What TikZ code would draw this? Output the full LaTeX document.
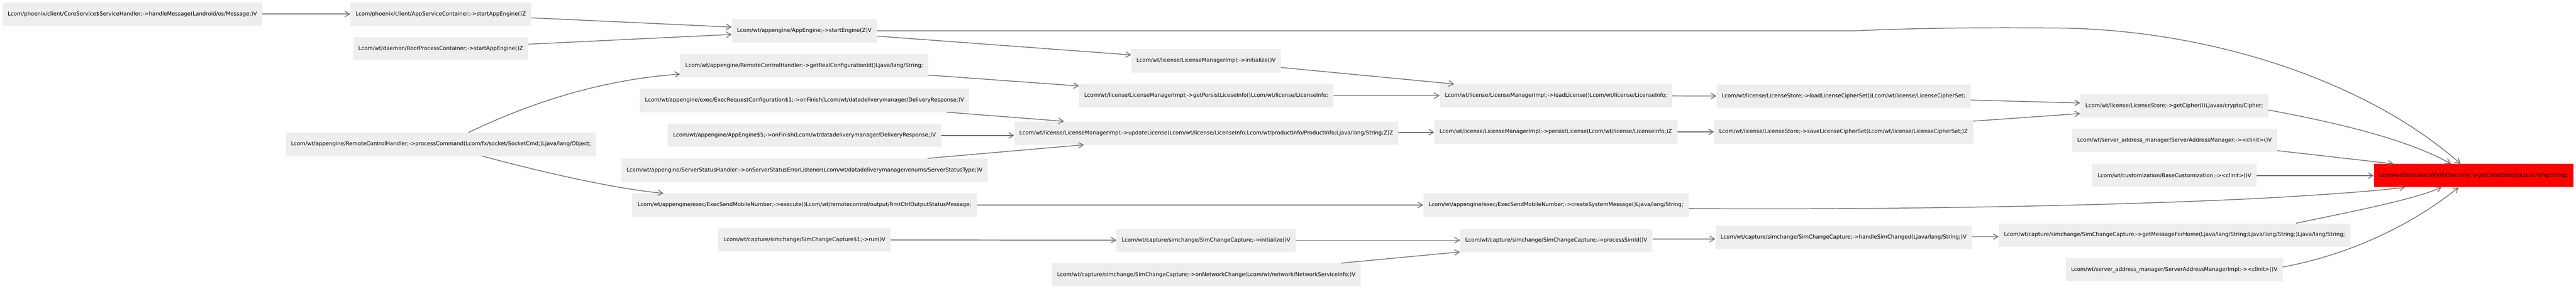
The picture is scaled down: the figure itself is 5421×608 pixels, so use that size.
\documentclass[tikz,border=0pt]{standalone}
\usepackage{fontspec}
\setmainfont{DejaVu Sans}
\usetikzlibrary{arrows.meta}
\definecolor{boxgray}{HTML}{EEEEEE}
\definecolor{edgegray}{HTML}{707070}
\begin{document}
\begin{tikzpicture}[x=1pt, y=-1pt,
  fn/.style={rectangle, fill=boxgray, inner xsep=11pt, inner ysep=0pt, minimum height=49pt, font=\fontsize{11.3}{13}\selectfont},
  hot/.style={fn, fill=red},
  link/.style={draw=edgegray, line width=1.6pt, -{Straight Barb[length=10pt,width=12pt]}}]
\useasboundingbox (0,0) rectangle (5421,608);
\node[fn] (core) at (278.5,29.5) {Lcom/phoenix/client/CoreService\$ServiceHandler;->handleMessage(Landroid/os/Message;)V};
\node[fn] (appsvc) at (927.5,29.5) {Lcom/phoenix/client/AppServiceContainer;->startAppEngine()Z};
\node[fn] (rootproc) at (927.5,102.5) {Lcom/wt/daemon/RootProcessContainer;->startAppEngine()Z};
\node[fn] (proccmd) at (928,303.5) {Lcom/wt/appengine/RemoteControlHandler;->processCommand(Lcom/fx/socket/SocketCmd;)Ljava/lang/Object;};
\node[fn] (startEng) at (1692.5,65) {Lcom/wt/appengine/AppEngine;->startEngine(Z)V};
\node[fn] (realCfg) at (1692.5,138.5) {Lcom/wt/appengine/RemoteControlHandler;->getRealConfigurationId()Ljava/lang/String;};
\node[fn] (reqCfg) at (1693,211.5) {Lcom/wt/appengine/exec/ExecRequestConfiguration\$1;->onFinish(Lcom/wt/datadeliverymanager/DeliveryResponse;)V};
\node[fn] (eng5) at (1693,285) {Lcom/wt/appengine/AppEngine\$5;->onFinish(Lcom/wt/datadeliverymanager/DeliveryResponse;)V};
\node[fn] (srvStat) at (1693,358) {Lcom/wt/appengine/ServerStatusHandler;->onServerStatusErrorListener(Lcom/wt/datadeliverymanager/enums/ServerStatusType;)V};
\node[fn] (sendMob) at (1693,431.5) {Lcom/wt/appengine/exec/ExecSendMobileNumber;->execute()Lcom/wt/remotecontrol/output/RmtCtrlOutputStatusMessage;};
\node[fn] (simRun) at (1693,505) {Lcom/wt/capture/simchange/SimChangeCapture\$1;->run()V};
\node[fn] (licInit) at (2538,128) {Lcom/wt/license/LicenseManagerImpl;->initialize()V};
\node[fn] (persInfo) at (2538.5,201) {Lcom/wt/license/LicenseManagerImpl;->getPersistLiceseInfo()Lcom/wt/license/LicenseInfo;};
\node[fn] (updLic) at (2538.5,280) {Lcom/wt/license/LicenseManagerImpl;->updateLicense(Lcom/wt/license/LicenseInfo;Lcom/wt/productinfo/ProductInfo;Ljava/lang/String;Z)Z};
\node[fn] (simInit) at (2538,505.5) {Lcom/wt/capture/simchange/SimChangeCapture;->initialize()V};
\node[fn] (netChg) at (2538.5,578.5) {Lcom/wt/capture/simchange/SimChangeCapture;->onNetworkChange(Lcom/wt/network/NetworkServiceInfo;)V};
\node[fn] (loadLic) at (3274.5,201.5) {Lcom/wt/license/LicenseManagerImpl;->loadLicense()Lcom/wt/license/LicenseInfo;};
\node[fn] (persLic) at (3274,277.5) {Lcom/wt/license/LicenseManagerImpl;->persistLicense(Lcom/wt/license/LicenseInfo;)Z};
\node[fn] (sysMsg) at (3274.5,431.5) {Lcom/wt/appengine/exec/ExecSendMobileNumber;->createSystemMessage()Ljava/lang/String;};
\node[fn] (simId) at (3275,505.5) {Lcom/wt/capture/simchange/SimChangeCapture;->processSimId()V};
\node[fn] (loadSet) at (3879.5,202.5) {Lcom/wt/license/LicenseStore;->loadLicenseCipherSet()Lcom/wt/license/LicenseCipherSet;};
\node[fn] (saveSet) at (3879.5,277.5) {Lcom/wt/license/LicenseStore;->saveLicenseCipherSet(Lcom/wt/license/LicenseCipherSet;)Z};
\node[fn] (simChg) at (3879.5,499.5) {Lcom/wt/capture/simchange/SimChangeCapture;->handleSimChanged(Ljava/lang/String;)V};
\node[fn] (cipher) at (4575.5,222.5) {Lcom/wt/license/LicenseStore;->getCipher(I)Ljavax/crypto/Cipher;};
\node[fn] (addrMgr) at (4576,295.5) {Lcom/wt/server\_address\_manager/ServerAddressManager;-><clinit>()V};
\node[fn] (baseCust) at (4576,369.5) {Lcom/wt/customization/BaseCustomization;-><clinit>()V};
\node[fn] (homeMsg) at (4576,494.5) {Lcom/wt/capture/simchange/SimChangeCapture;->getMessageForHome(Ljava/lang/String;Ljava/lang/String;)Ljava/lang/String;};
\node[fn] (addrImpl) at (4575.5,567.5) {Lcom/wt/server\_address\_manager/ServerAddressManagerImpl;-><clinit>()V};
\node[hot] (fxConst) at (5205.5,369.5) {Lcom/wt/base/security/FxSecurity;->getConstant([B)Ljava/lang/String;};

\draw[link] (core) -- (appsvc);
\draw[link] ([yshift=-8pt]appsvc.east) -- ([yshift=8pt]startEng.west);
\draw[link] ([yshift=9.5pt]rootproc.east) -- ([yshift=-7.5pt]startEng.west);
\draw[link] ([xshift=58pt]proccmd.north) .. controls (1150,200) and (1300,165) .. ([yshift=-17.5pt]realCfg.west);
\draw[link] ([xshift=86pt]proccmd.south) .. controls (1150,365) and (1300,398) .. ([xshift=-297pt]sendMob.north);
\draw[link] (startEng.east) -- (3900,65) .. controls (4050,58) and (4200,58) .. (4330,59) .. controls (4650,62) and (4980,170) .. ([xshift=-27.5pt]fxConst.north);
\draw[link] ([yshift=-11pt]startEng.east) -- ([yshift=12.4pt]licInit.west);
\draw[link] ([yshift=-19.5pt]realCfg.east) -- ([yshift=20pt]persInfo.west);
\draw[link] ([xshift=300pt]reqCfg.south) -- ([xshift=-299.5pt]updLic.north);
\draw[link] (eng5.east) -- (eng5.east -| updLic.west);
\draw[link] ([xshift=259pt]srvStat.north) -- ([xshift=-257.5pt]updLic.south);
\draw[link] (sendMob) -- (sysMsg);
\draw[link] (simRun) -- (simInit);
\draw[link] ([yshift=-14pt]licInit.east) -- ([xshift=-214.5pt]loadLic.north);
\draw[link] (persInfo) -- (loadLic);
\draw[link] ([yshift=1.5pt]updLic.east) -- ([yshift=-1pt]persLic.west);
\draw[link] (simInit) -- (simId);
\draw[link] ([xshift=283.5pt]netChg.north) -- (simId.south west);
\draw[link] (loadLic) -- (loadSet);
\draw[link] (persLic) -- (saveSet);
\draw[link] ([yshift=-7.5pt]sysMsg.east) .. controls (4000,442) and (4500,432) .. (4800,415) .. controls (4900,409) and (5000,402) .. ([xshift=-144.5pt]fxConst.south);
\draw[link] ([yshift=2.5pt]simId.east) -- ([yshift=-3.5pt]simChg.west);
\draw[link] ([yshift=1.5pt]simChg.east) -- ([yshift=-3.5pt]homeMsg.west);
\draw[link] ([yshift=-8pt]loadSet.east) -- ([yshift=5.7pt]cipher.west);
\draw[link] ([yshift=22.5pt]saveSet.east) -- ([yshift=-16.5pt]cipher.west);
\draw[link] ([yshift=-9pt]cipher.east) .. controls (4900,255) and (5060,290) .. ([xshift=-47.5pt]fxConst.north);
\draw[link] ([yshift=-21.5pt]addrMgr.east) -- ([xshift=-168.5pt]fxConst.north);
\draw[link] (baseCust) -- (fxConst);
\draw[link] ([xshift=256pt]homeMsg.north) .. controls (4950,445) and (5080,420) .. ([xshift=-67.5pt]fxConst.south);
\draw[link] ([yshift=5.5pt]addrImpl.east) .. controls (4950,535) and (5080,470) .. ([xshift=-31.5pt]fxConst.south);
\end{tikzpicture}
\end{document}
